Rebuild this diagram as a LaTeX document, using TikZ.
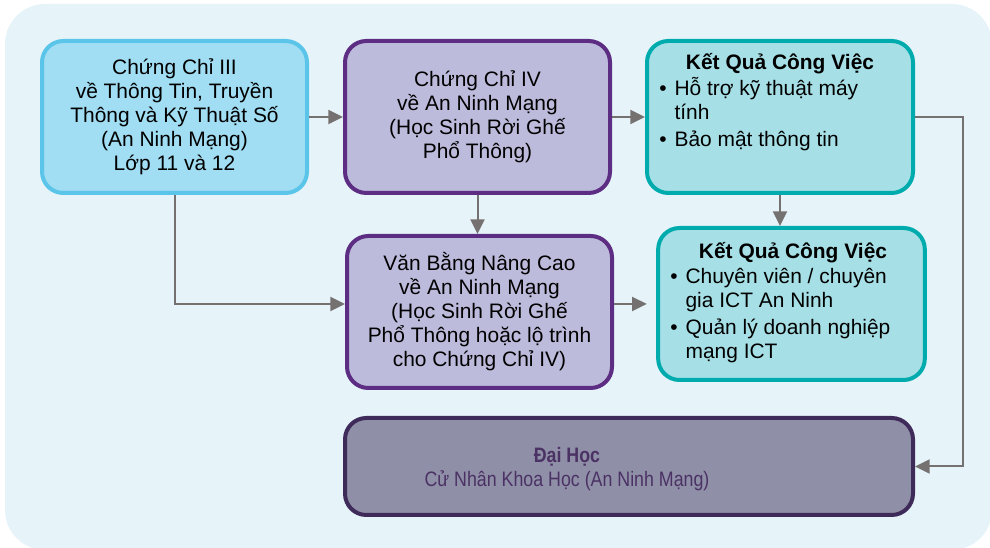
\documentclass[tikz,border=0pt]{standalone}
\usepackage{fontspec}
\setmainfont{Liberation Sans}
\usetikzlibrary{arrows.meta}
\definecolor{bgblue}{HTML}{E6F4FA}
\definecolor{skyfill}{HTML}{A1DDF3}
\definecolor{skyline}{HTML}{5BC5E9}
\definecolor{lilacfill}{HTML}{BDBBDB}
\definecolor{lilacline}{HTML}{5C2D82}
\definecolor{tealfill}{HTML}{A6E0E6}
\definecolor{tealline}{HTML}{00ABAD}
\definecolor{unifill}{HTML}{908FA8}
\definecolor{uniline}{HTML}{3F2B59}
\definecolor{unitext}{HTML}{4B3264}
\definecolor{flowgray}{HTML}{767171}
\newcommand{\narrow}[1]{\scalebox{0.85}[1]{#1}}

\begin{document}
\begin{tikzpicture}[x=0.75pt,y=-0.75pt,
  font=\fontsize{15.7}{18}\selectfont,
  box/.style={rounded corners=16pt,line width=3pt,minimum width=198.75pt,
    minimum height=114pt,align=center,inner sep=0pt},
  flow/.style={draw=flowgray,line width=1.5pt,-{Triangle[length=11pt,width=10.5pt]}},
  blist/.style={anchor=base west,inner sep=0pt}]
  \useasboundingbox (0,0) rectangle (990,548);
  \fill[bgblue,rounded corners=30pt] (5,4) rectangle (992,550);
  % study paths
  \node[box,draw=skyline,fill=skyfill] (cert3) at (174.5,117)
    {Chứng Chỉ III\\về Thông Tin, Truyền\\Thông và Kỹ Thuật Số\\(An Ninh Mạng)\\Lớp 11 và 12};
  \node[box,draw=lilacline,fill=lilacfill] (cert4) at (477.5,117)
    {Chứng Chỉ IV\\về An Ninh Mạng\\(Học Sinh Rời Ghế\\Phổ Thông)};
  \node[box,draw=lilacline,fill=lilacfill] (adv) at (479.5,312)
    {Văn Bằng Nâng Cao\\về An Ninh Mạng\\(Học Sinh Rời Ghế\\Phổ Thông hoặc lộ trình\\cho Chứng Chỉ IV)};
  % job outcomes
  \node[box,draw=tealline,fill=tealfill,minimum width=199.5pt] (job1) at (780,117) {};
  \node[anchor=base,inner sep=0pt] (job1t) at (780,70) {\textbf{Kết Quả Công Việc}};
  \node[blist] (job1l) at (659,96) {\begin{tabular}[t]{@{}l@{\hspace{6pt}}l@{}}
    \textbullet & Hỗ trợ kỹ thuật máy\\ & tính\\[2pt]
    \textbullet & Bảo mật thông tin\end{tabular}};
  \node[box,draw=tealline,fill=tealfill,minimum width=200pt] (job2) at (791.5,304) {};
  \node[anchor=base,inner sep=0pt] (job2t) at (793,259) {\textbf{Kết Quả Công Việc}};
  \node[blist] (job2l) at (670,284) {\begin{tabular}[t]{@{}l@{\hspace{6pt}}l@{}}
    \textbullet & Chuyên viên / chuyên\\ & gia ICT An Ninh\\[2pt]
    \textbullet & Quản lý doanh nghiệp\\ & mạng ICT\end{tabular}};
  % university
  \node[box,draw=uniline,fill=unifill,minimum width=426pt,minimum height=72.75pt] (uni) at (629,466.5) {};
  \node[align=center,text=unitext,inner sep=0pt] (unit) at (567,469)
    {\narrow{\textbf{Đại Học}}\\\narrow{Cử Nhân Khoa Học (An Ninh Mạng)}};
  % connectors
  \draw[flow] (cert3) -- (cert4);
  \draw[flow] (cert4) -- (job1);
  \draw[flow] (cert4.south) -- (cert4.south |- adv.north);
  \draw[flow] (job1.south) -- (job1.south |- job2.north);
  \draw[flow] (cert3.south) |- (adv.west |- job2.west);
  \draw[flow,shorten >=7pt] (adv.east |- job2.west) -- (job2.west);
  \draw[flow] (job1.east) -- ++(48,0) |- (uni.east);
\end{tikzpicture}
\end{document}
